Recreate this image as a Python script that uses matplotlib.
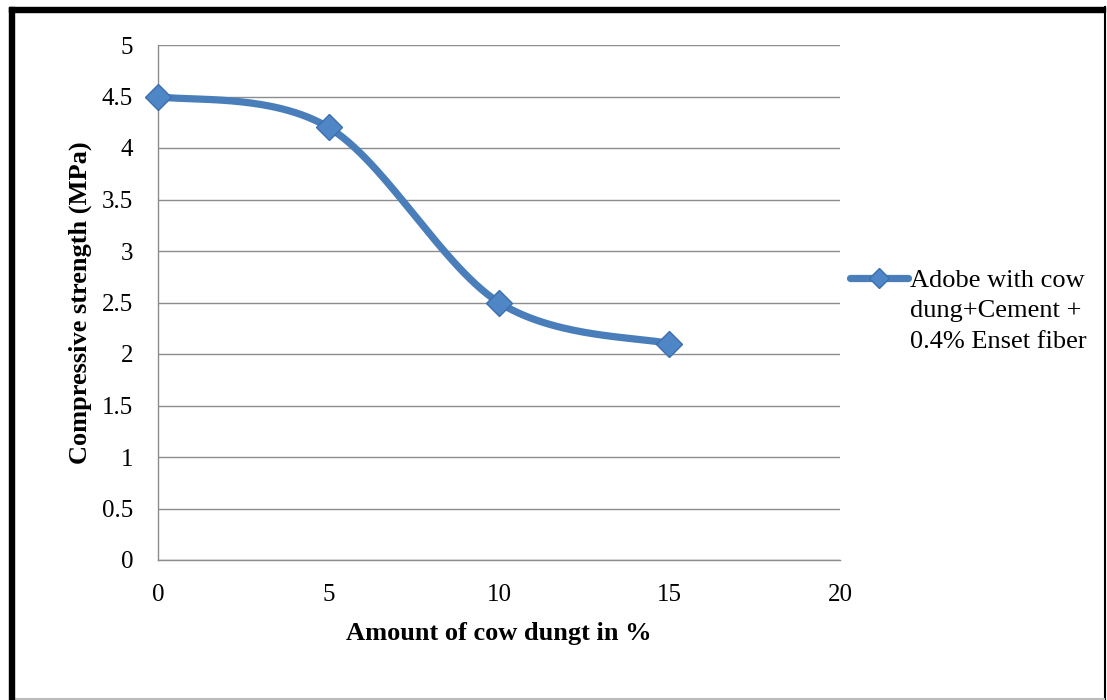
import numpy as np
import matplotlib.pyplot as plt
from matplotlib.lines import Line2D
from matplotlib.patches import Rectangle

plt.rcParams['font.family'] = ['Liberation Serif', 'DejaVu Serif']

dung = [0, 5, 10, 15]
strength = [4.5, 4.2, 2.5, 2.1]
series_name = "Adobe with cow\ndung+Cement +\n0.4% Enset fiber"
yticks = np.arange(0, 5.01, 0.5)
ytick_labels = ['0', '0.5', '1', '1.5', '2', '2.5', '3', '3.5', '4', '4.5', '5']
xticks = [0, 5, 10, 15, 20]

blue = '#4a7ebb'
W, H = 1107, 700


def excel_smooth(xs, ys, n=60):
    # bezier smoothing like the office "smoothed line"
    p = np.column_stack([xs, ys]).astype(float)
    out = [p[0]]
    for i in range(len(p) - 1):
        p0 = p[i - 1] if i > 0 else p[i]
        p1, p2 = p[i], p[i + 1]
        p3 = p[i + 2] if i + 2 < len(p) else p[i + 1]
        c1 = p1 + (p2 - p0) / 6
        c2 = p2 - (p3 - p1) / 6
        t = np.linspace(0, 1, n)[1:, None]
        seg = (1 - t) ** 3 * p1 + 3 * (1 - t) ** 2 * t * c1 + 3 * (1 - t) * t ** 2 * c2 + t ** 3 * p2
        out.extend(seg)
    out = np.array(out)
    return out[:, 0], out[:, 1]


fig = plt.figure(figsize=(W / 100, H / 100), dpi=100)
ax = fig.add_axes([158 / W, 1 - 560 / H, (840 - 158) / W, (560 - 45) / H])

sx, sy = excel_smooth(dung, strength)
ax.plot(sx, sy, color=blue, lw=5.2, solid_capstyle='round', zorder=3)
ax.plot(dung, strength, ls='none', marker='D', ms=13.5, mfc='#4f86c6',
        mec='#3d6fae', mew=1, zorder=4, clip_on=False)

ax.set_xlim(0, 20)
ax.set_ylim(0, 5)
ax.set_xticks(xticks)
ax.set_yticks(yticks)
ax.set_yticklabels(ytick_labels)
ax.tick_params(length=0, labelsize=18, colors='black')
ax.tick_params(axis='x', pad=17)
ax.tick_params(axis='y', pad=18)
ax.grid(axis='y', color='#8c8c8c', lw=1)
ax.set_axisbelow(True)
for s in ['top', 'right']:
    ax.spines[s].set_visible(False)
for s in ['left', 'bottom']:
    ax.spines[s].set_color('#8c8c8c')
    ax.spines[s].set_linewidth(1)

ax.set_xlabel("Amount of cow dungt in %", fontsize=19, fontweight='bold')
ax.set_ylabel("Compressive strength (MPa)", fontsize=19, fontweight='bold')
ax.xaxis.set_label_coords(0.5, (560 - 622) / 515)
ax.yaxis.set_label_coords((92 - 158) / 682, 0.5)

# legend, handle next to the first line of text as in the original
fig.add_artist(Line2D([850 / W, 908 / W], [1 - 278 / H] * 2, transform=fig.transFigure,
                      color=blue, lw=5.2, solid_capstyle='round'))
fig.add_artist(Line2D([879 / W], [1 - 278 / H], transform=fig.transFigure, ls='none',
                      marker='D', ms=10, mfc='#4f86c6', mec='#3d6fae', mew=1))
fig.text(910 / W, 1 - 270 / H, series_name, fontsize=19, va='top', ha='left', linespacing=1.49)

# outer frame
fig.patches.append(Rectangle((9 / W, 0), 5 / W, 693 / H, transform=fig.transFigure,
                             color='black', zorder=10))
fig.patches.append(Rectangle((9 / W, 688 / H), 1096 / W, 5 / H, transform=fig.transFigure,
                             color='black', zorder=10))
fig.add_artist(Line2D([1104.5 / W] * 2, [0, 693 / H], transform=fig.transFigure, color='black', lw=1.5))
fig.add_artist(Line2D([14 / W, 1104 / W], [1 / H] * 2, transform=fig.transFigure, color='#bbbbbb', lw=1.5))

fig.savefig('out.png', dpi=100)
